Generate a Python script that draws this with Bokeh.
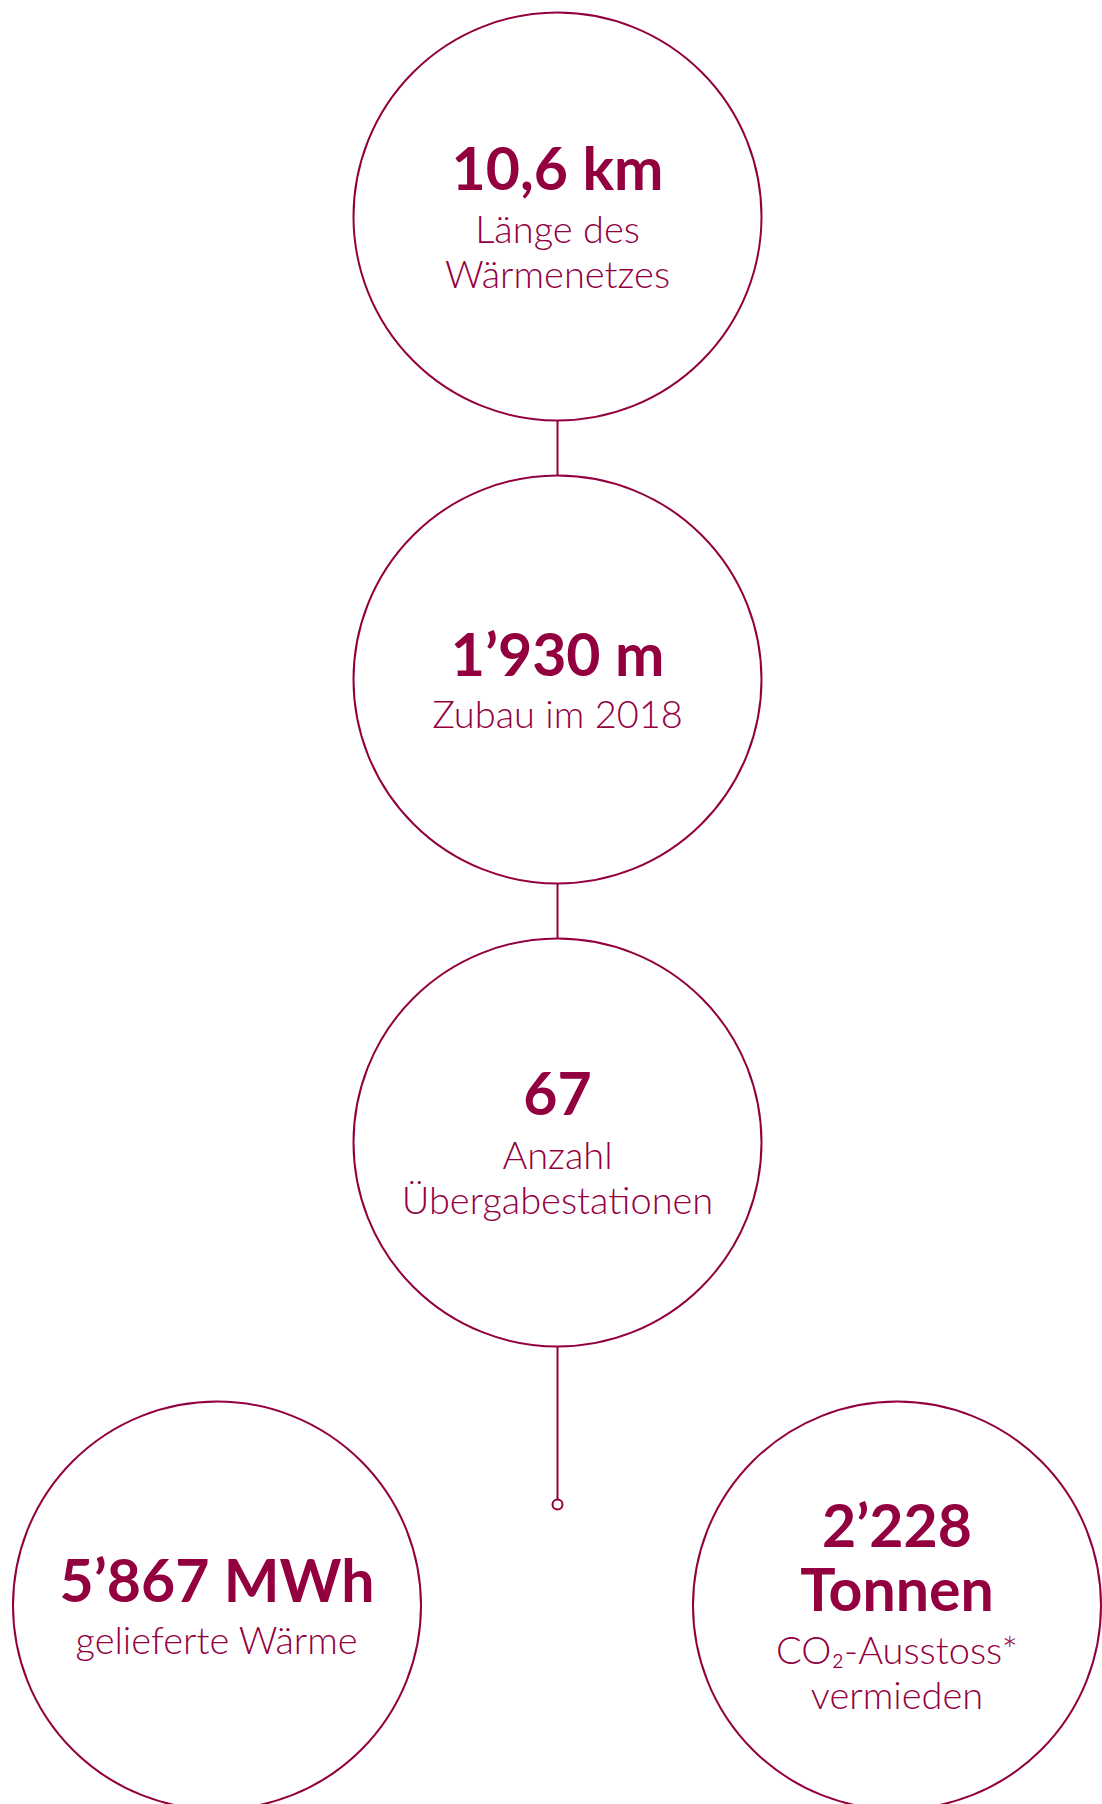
from bokeh.plotting import figure
from bokeh.models import Range1d
from bokeh.core.properties import value
from bokeh.embed import file_html
from bokeh.resources import INLINE

# ---- data (texts of the chart) ----
value_lines = [["10,6 km"], ["1’930 m"], ["67"], ["5’867 MWh"], ["2’228", "Tonnen"]]
label_lines = [["Länge des", "Wärmenetzes"], ["Zubau im 2018"], ["Anzahl", "Übergabestationen"],
               ["gelieferte Wärme"], ["CO₂-Ausstoss*", "vermieden"]]

# ---- layout (page pixel coordinates) ----
cx = [557, 557, 557, 216.5, 896.5]
cy = [216, 679, 1142, 1605, 1605]
R = 204
dot_y = 1504
COLOR = "#93003f"
GAP_BB, GAP_BR, GAP_RR = 64, 51, 45
MID = 25
BOLD_SIZE, REG_SIZE = 59, 38
BASE_FIX = 0.44  # renderer baseline correction (em)

W, H = 1102, 1804
p = figure(width=W, height=H, x_range=Range1d(0, W), y_range=Range1d(H, 0),
           output_backend="svg", toolbar_location=None, min_border=0)
p.axis.visible = False
p.grid.visible = False
p.outline_line_color = None
p.background_fill_color = "white"
p.border_fill_color = "white"

# connectors
x0s, y0s, x1s, y1s = [], [], [], []
for i in range(2):
    x0s.append(cx[i]); y0s.append(cy[i] + R); x1s.append(cx[i + 1]); y1s.append(cy[i + 1] - R)
x0s.append(cx[2]); y0s.append(cy[2] + R); x1s.append(cx[2]); y1s.append(dot_y - 5)
p.segment(x0=x0s, y0=y0s, x1=x1s, y1=y1s, line_color=COLOR, line_width=2)
p.scatter(x=[cx[2]], y=[dot_y], size=10, marker="circle", fill_color="white",
          line_color=COLOR, line_width=2)

# circles
p.circle(x=cx, y=cy, radius=R, fill_color=None, line_color=COLOR, line_width=2)

# texts
bx, by, bt, rx, ry, rt = [], [], [], [], [], []
for i in range(len(cx)):
    kinds = [("b", t) for t in value_lines[i]] + [("r", t) for t in label_lines[i]]
    ys = [0.0]
    for k in range(1, len(kinds)):
        a, b = kinds[k - 1][0], kinds[k][0]
        g = GAP_BB if (a, b) == ("b", "b") else (GAP_BR if a == "b" else GAP_RR)
        ys.append(ys[-1] + g)
    shift = MID - (ys[0] + ys[-1]) / 2
    for (kind, t), yy in zip(kinds, ys):
        if kind == "b":
            bx.append(cx[i]); by.append(cy[i] + yy + shift); bt.append(t)
        else:
            rx.append(cx[i]); ry.append(cy[i] + yy + shift); rt.append(t)

p.text(x=bx, y=by, text=bt, text_align="center", text_baseline="alphabetic",
       y_offset=-BASE_FIX * BOLD_SIZE,
       text_font=value("Lato"), text_font_style="bold", text_font_size=f"{BOLD_SIZE}px",
       text_color=COLOR)
p.text(x=rx, y=ry, text=rt, text_align="center", text_baseline="alphabetic",
       y_offset=-BASE_FIX * REG_SIZE,
       text_font=value("Lato Light"), text_font_style="normal", text_font_size=f"{REG_SIZE}px",
       text_color=COLOR)

open("out.html", "w").write(file_html(p, INLINE))
